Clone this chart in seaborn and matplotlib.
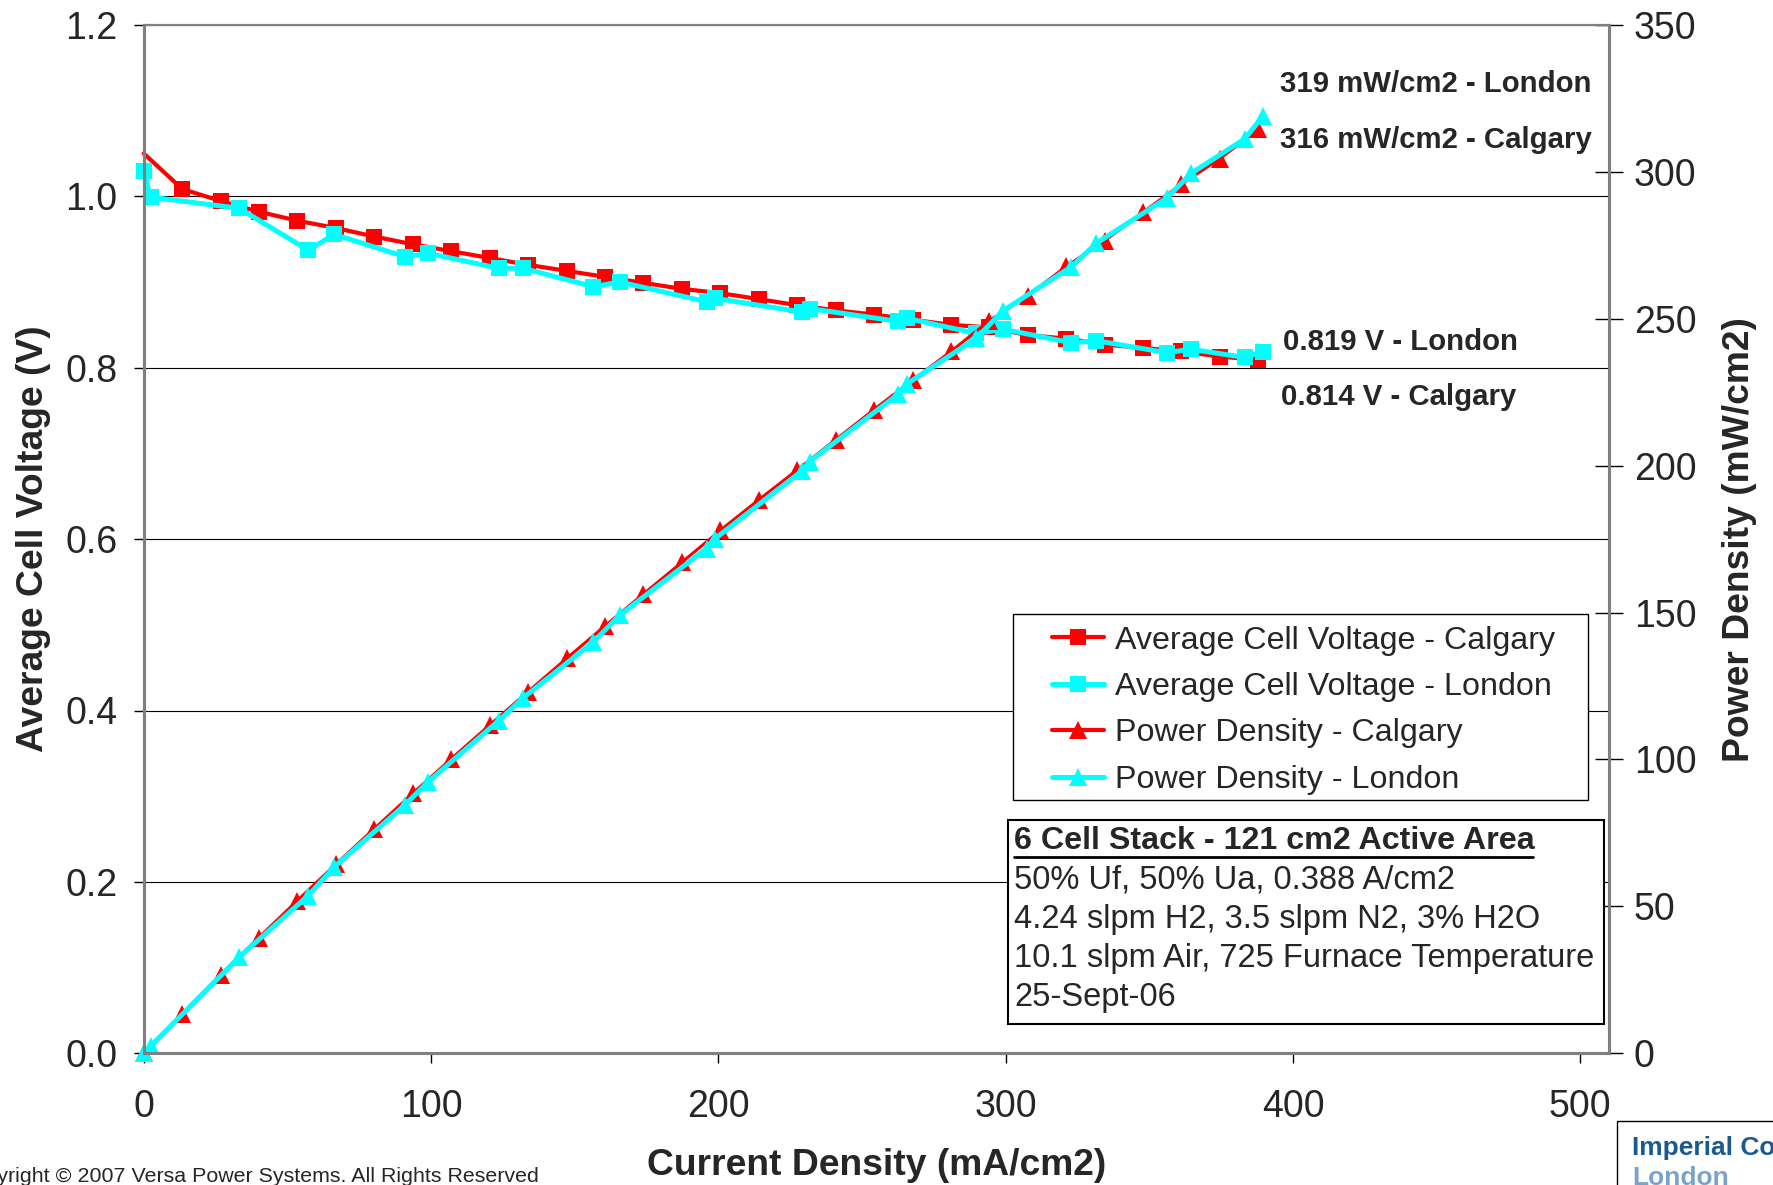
import matplotlib
matplotlib.use("Agg")
import matplotlib.pyplot as plt
import seaborn as sns
import pandas as pd
from matplotlib.patches import Rectangle
from matplotlib.lines import Line2D

# current density (mA/cm2) and voltage / power
calgary_current = [0, 13.4, 26.8, 40.1, 53.5, 66.9, 80.3, 93.7, 107.0, 120.4,
                   133.8, 147.2, 160.6, 173.9, 187.3, 200.7, 214.1, 227.4, 240.8, 254.2,
                   267.6, 281.0, 294.3, 307.7, 321.1, 334.5, 347.9, 361.2, 374.6, 388.0]
calgary_voltage = [1.050, 1.0085, 0.9945, 0.982, 0.9715, 0.963, 0.953, 0.944, 0.936, 0.928,
                   0.920, 0.913, 0.906, 0.899, 0.892, 0.887, 0.880, 0.873, 0.867, 0.862,
                   0.856, 0.850, 0.847, 0.838, 0.834, 0.827, 0.823, 0.819, 0.813, 0.809]
calgary_power = [0, 13.5, 26.7, 39.4, 52.0, 64.4, 76.5, 88.5, 100.2, 111.7,
                 123.1, 134.4, 145.5, 156.3, 167.1, 178.0, 188.4, 198.5, 208.8, 219.1,
                 229.1, 238.9, 249.3, 257.9, 267.8, 276.6, 286.3, 295.8, 304.5, 314.5]

london_current = [0, 2.4, 33.2, 57.3, 66.3, 90.9, 99.0, 123.6, 132.0, 156.5,
                  165.7, 195.9, 198.8, 229.0, 231.8, 262.6, 265.5, 289.8, 299.1, 322.9,
                  331.6, 356.0, 364.6, 383.2, 389.6]
london_voltage = [1.030, 0.999, 0.986, 0.937, 0.9556, 0.9295, 0.9335, 0.916, 0.916, 0.8945,
                  0.900, 0.877, 0.881, 0.865, 0.869, 0.854, 0.8577, 0.840, 0.845, 0.829,
                  0.8315, 0.8175, 0.8215, 0.812, 0.8187]
london_power = [0, 2.4, 32.7, 53.7, 63.4, 84.5, 92.4, 113.2, 120.9, 140.0,
                149.1, 171.8, 175.1, 198.1, 201.4, 224.3, 227.7, 243.4, 252.7, 267.7,
                275.7, 291.0, 299.5, 311.2, 319.0]

series_labels = ["Average Cell Voltage - Calgary", "Average Cell Voltage - London",
                 "Power Density - Calgary", "Power Density - London"]
voltage_ticks = [0.0, 0.2, 0.4, 0.6, 0.8, 1.0, 1.2]
power_ticks = [0, 50, 100, 150, 200, 250, 300, 350]
current_ticks = [0, 100, 200, 300, 400, 500]

info_title = "6 Cell Stack - 121 cm2 Active Area"
info_lines = ["50% Uf, 50% Ua, 0.388 A/cm2",
              "4.24 slpm H2, 3.5 slpm N2, 3% H2O",
              "10.1 slpm Air, 725 Furnace Temperature",
              "25-Sept-06"]
end_notes = ["319 mW/cm2 - London", "316 mW/cm2 - Calgary",
             "0.819 V - London", "0.814 V - Calgary"]

sns.set_style("white")
plt.rcParams['font.family'] = ['Liberation Sans', 'DejaVu Sans']

RED = "#ff0000"
CYAN = "#00ffff"
GREY = "#808080"

calgary = pd.DataFrame({"I": calgary_current, "V": calgary_voltage, "P": calgary_power})
london = pd.DataFrame({"I": london_current, "V": london_voltage, "P": london_power})

W, H = 1774, 1185
fig = plt.figure(figsize=(W / 100, H / 100), dpi=100)
ax = fig.add_axes([143.7 / W, 1 - 1053.3 / H, (1609 - 143.7) / W, (1053.3 - 24.9) / H])
ax2 = ax.twinx()

sq = dict(marker="s", markersize=11, markeredgewidth=0, clip_on=False,
          sort=False, estimator=None, legend=False)
tri = dict(marker="^", markersize=13, markeredgewidth=0, clip_on=False,
           sort=False, estimator=None, legend=False)

sns.lineplot(data=calgary, x="I", y="V", ax=ax, color=RED, linewidth=3.0,
             markevery=list(range(1, len(calgary))), **sq)
sns.lineplot(data=london, x="I", y="V", ax=ax, color=CYAN, linewidth=3.6, **sq)
sns.lineplot(data=calgary, x="I", y="P", ax=ax2, color=RED, linewidth=2.2, **tri)
sns.lineplot(data=london, x="I", y="P", ax=ax2, color=CYAN, linewidth=3.6, **tri)

ax.set_xlim(0, 510)
ax.set_ylim(0, 1.2)
ax2.set_ylim(0, 350)
ax.set_xticks(current_ticks)
ax.set_yticks(voltage_ticks)
ax.set_yticklabels([f"{v:.1f}" for v in voltage_ticks])
ax2.set_yticks(power_ticks)

ax.grid(axis="y", color="black", linewidth=0.8)
ax.grid(axis="x", visible=False)
ax.set_axisbelow(True)

for a in (ax, ax2):
    for side in ("left", "bottom", "right"):
        a.spines[side].set_color(GREY)
        a.spines[side].set_linewidth(2.2)
    a.spines["top"].set_color(GREY)
    a.spines["top"].set_linewidth(1.5)

ax.tick_params(axis="y", direction="out", length=7, width=1, color="black",
               labelsize=27, pad=12, left=True)
ax.tick_params(axis="x", direction="out", length=7, width=1, color="black",
               labelsize=27, pad=19, bottom=True)
ax2.tick_params(axis="y", direction="inout", length=20, width=1, color="black",
                labelsize=27, pad=8, right=True)

ax.set_xlabel("Current Density (mA/cm2)", fontsize=26.8, fontweight="bold", labelpad=16)
ax.set_ylabel("Average Cell Voltage (V)", fontsize=26.8, fontweight="bold", labelpad=10)
ax2.set_ylabel("Power Density (mW/cm2)", fontsize=26.8, fontweight="bold", labelpad=18)

# legend frame drawn separately so the padding can match
ax2.add_patch(Rectangle((0.593, 0.2463), 0.393, 0.1809, transform=ax2.transAxes,
                        facecolor="white", edgecolor="black", linewidth=1.0,
                        zorder=4.5, clip_on=False))
handles = [
    Line2D([], [], color=RED, linewidth=3.0, marker="s", markersize=11, markeredgewidth=0),
    Line2D([], [], color=CYAN, linewidth=3.6, marker="s", markersize=11, markeredgewidth=0),
    Line2D([], [], color=RED, linewidth=3.0, marker="^", markersize=13, markeredgewidth=0),
    Line2D([], [], color=CYAN, linewidth=3.6, marker="^", markersize=13, markeredgewidth=0),
]
leg = ax2.legend(handles, series_labels, loc="upper left", bbox_to_anchor=(0.620, 0.4159),
                 borderaxespad=0, borderpad=0, fontsize=23.2, frameon=False,
                 handlelength=1.6, handletextpad=0.35, labelspacing=0.51)
leg.set_zorder(5)


def fx(px):
    return px / W


def fy(py):
    return 1 - py / H


# info box
fig.patches.append(Rectangle((fx(1008.5), fy(1024)), fx(1604.5) - fx(1008.5), fy(820) - fy(1024),
                             transform=fig.transFigure, fill=True, facecolor="white",
                             edgecolor="black", linewidth=1.5, zorder=5))
fig.text(fx(1014), fy(841), info_title, fontsize=23.2, fontweight="bold",
         ha="left", va="center", zorder=6)
fig.add_artist(Line2D([fx(1014), fx(1533)], [fy(857), fy(857)], color="black",
                      linewidth=2.0, transform=fig.transFigure, zorder=6))
for i, line in enumerate(info_lines):
    fig.text(fx(1014), fy(880 + 39.3 * i), line, fontsize=23.5,
             ha="left", va="center", zorder=6)

# end-point annotations
note_pos = [(1280, 84), (1280, 140), (1283, 342), (1281, 397)]
for txt, (px, py) in zip(end_notes, note_pos):
    fig.text(fx(px), fy(py), txt, fontsize=21.2, fontweight="bold", ha="left", va="center")

# footer (cut at the page edge as in the original slide)
fig.text(fx(-42), fy(1176), "Copyright \u00a9 2007 Versa Power Systems. All Rights Reserved",
         fontsize=15.4, ha="left", va="center")
fig.patches.append(Rectangle((fx(1617), fy(1200)), fx(200), fy(1121) - fy(1200),
                             transform=fig.transFigure, facecolor="white",
                             edgecolor="black", linewidth=1.0))
fig.text(fx(1632), fy(1148), "Imperial College", fontsize=19, fontweight="bold",
         color="#1a5a91", ha="left", va="center")
fig.text(fx(1632), fy(1178), "London", fontsize=19, fontweight="bold",
         color="#7aa3cc", ha="left", va="center")

fig.savefig("out.png", dpi=100)
